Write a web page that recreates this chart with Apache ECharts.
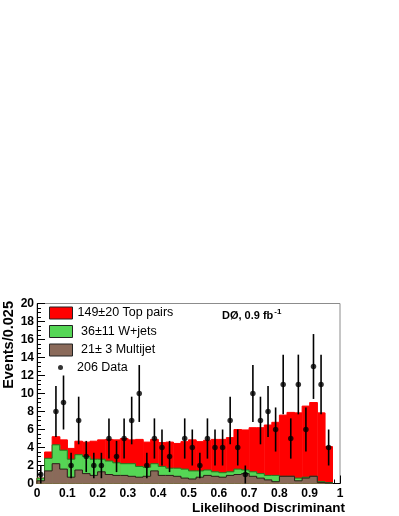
<!DOCTYPE html>
<html>
<head>
<meta charset="utf-8">
<script src="https://cdn.jsdelivr.net/npm/echarts@6/dist/echarts.min.js"></script>
<style>
html, body { margin: 0; padding: 0; background: #fff; }
#main { width: 399px; height: 516px; }
</style>
</head>
<body>
<div id="main"></div>
<script>
// bins of 0.025 on the likelihood discriminant, 0 .. 0.975
var binWidth = 0.025;
var multijet = [0.3, 1.4, 2.2, 1.6, 0.7, 1.5, 1.1, 0.9, 1.3, 1.0,
                0.9, 0.9, 0.8, 0.7, 0.8, 1.4, 0.9, 0.9, 0.8, 0.6,
                0.5, 0.7, 0.9, 0.8, 0.7, 0.9, 1.0, 1.1, 0.8, 0.6,
                0.4, 0.2, 0.8, 0.8, 0.3, 0.6, 0.8, 0.1, 0.05];
var wjets    = [0.3, 1.4, 2.1, 2.1, 2.0, 1.7, 1.9, 1.8, 1.4, 1.5,
                1.4, 1.3, 1.4, 1.2, 1.0, 0.8, 1.0, 0.8, 0.9, 1.0,
                0.9, 0.7, 0.6, 0.5, 0.5, 0.4, 0.6, 0.4, 0.5, 0.5,
                0.5, 0.7, 0.0, 0.0, 0.3, 0.1, 0.0, 0.1, 0.05];
var topPairs = [0.0, 0.7, 0.9, 1.15, 1.2, 1.5, 1.6, 2.0, 2.15, 2.4,
                2.55, 2.8, 2.65, 3.0, 2.8, 2.7, 2.65, 2.9, 2.75, 3.05,
                3.45, 3.25, 3.3, 3.6, 3.7, 3.8, 4.4, 4.45, 4.9, 5.1,
                5.6, 5.9, 6.8, 7.1, 7.25, 7.9, 8.2, 7.65, 4.0];
// observed events per bin (empty bins are not drawn)
var dataCounts = [1, 0, 8, 9, 2, 7, 3, 2, 2, 5,
                  3, 5, 7, 10, 2, 5, 4, 3, 0, 5,
                  4, 2, 5, 4, 4, 7, 4, 1, 10, 7,
                  8, 6, 11, 5, 11, 6, 13, 11, 4];
var xTicks = [0, 0.1, 0.2, 0.3, 0.4, 0.5, 0.6, 0.7, 0.8, 0.9, 1];
var legendNames = ['149\u00b120 Top pairs', ' 36\u00b111 W+jets', ' 21\u00b1 3 Multijet', '206 Data'];

var font = 'Liberation Sans, Arial, Helvetica, sans-serif';

// cumulative tops of the stack
var lvlMulti = multijet.slice();
var lvlW = multijet.map(function (v, i) { return v + wjets[i]; });
var lvlTop = lvlW.map(function (v, i) { return v + topPairs[i]; });

function histSeries(name, tops, fill, line, z) {
  return {
    type: 'custom',
    name: name,
    z: z,
    itemStyle: { color: fill },
    data: tops.map(function (v, i) {
      return [i * binWidth, (i + 1) * binWidth, v, i > 0 ? tops[i - 1] : 0, i === tops.length - 1 ? 1 : 0];
    }),
    encode: { x: [0, 1], y: 2 },
    renderItem: function (params, api) {
      var a = api.coord([api.value(0), api.value(2)]);
      var b = api.coord([api.value(1), 0]);
      var prev = api.coord([api.value(0), api.value(3)]);
      var kids = [{
        type: 'rect',
        shape: { x: a[0], y: a[1], width: b[0] - a[0] + 0.5, height: b[1] - a[1] },
        style: { fill: fill }
      }, {
        type: 'polyline',
        shape: { points: [[a[0], prev[1]], [a[0], a[1]], [b[0], a[1]]] },
        style: { stroke: line, lineWidth: 1, fill: null }
      }];
      if (api.value(4)) {
        kids.push({
          type: 'line',
          shape: { x1: b[0], y1: a[1], x2: b[0], y2: b[1] },
          style: { stroke: line, lineWidth: 1 }
        });
      }
      return { type: 'group', children: kids };
    }
  };
}

var points = [];
dataCounts.forEach(function (n, i) {
  if (n > 0) points.push([(i + 0.5) * binWidth, n, Math.sqrt(n)]);
});

var chart = echarts.init(document.getElementById('main'));
var option = {
  animation: false,
  backgroundColor: '#fff',
  grid: { left: 37, top: 303.5, width: 303, height: 180, show: true, borderColor: '#8c8c8c', borderWidth: 1 },
  xAxis: {
    type: 'value', min: 0, max: 1, interval: 0.1,
    axisLine: { lineStyle: { color: '#000', width: 1 } },
    axisTick: { inside: true, length: 8, lineStyle: { color: '#000' } },
    minorTick: { show: true, splitNumber: 5, length: 4, lineStyle: { color: '#000' } },
    splitLine: { show: false },
    axisLabel: {
      color: '#000', fontFamily: font, fontWeight: 'bold', fontSize: 12, margin: 4,
      formatter: function (v) { return xTicks.indexOf(v) >= 0 ? String(v) : ''; }
    }
  },
  yAxis: {
    type: 'value', min: 0, max: 20, interval: 2,
    axisLine: { lineStyle: { color: '#000', width: 1 } },
    axisTick: { inside: true, length: 8, lineStyle: { color: '#000' } },
    minorTick: { show: true, splitNumber: 4, length: 4, lineStyle: { color: '#000' } },
    splitLine: { show: false },
    axisLabel: { color: '#000', fontFamily: font, fontWeight: 'bold', fontSize: 12, margin: 3 }
  },
  legend: [{
    orient: 'vertical', left: 49, top: 306.5, padding: 0,
    itemWidth: 23, itemHeight: 12, itemGap: 5.5,
    textStyle: { fontFamily: font, fontSize: 12.5, color: '#000', lineHeight: 12 },
    data: [
      { name: legendNames[0], icon: 'rect', itemStyle: { color: '#ff0000', borderColor: '#222', borderWidth: 1 } },
      { name: legendNames[1], icon: 'rect', itemStyle: { color: '#55d655', borderColor: '#222', borderWidth: 1 } },
      { name: legendNames[2], icon: 'rect', itemStyle: { color: '#8a6a5a', borderColor: '#222', borderWidth: 1 } }
    ]
  }, {
    orient: 'vertical', left: 53, top: 356,
    itemWidth: 23, itemHeight: 5,
    textStyle: { fontFamily: font, fontSize: 12.5, color: '#000' },
    data: [{ name: legendNames[3], icon: 'circle' }]
  }],
  graphic: [{
    type: 'text', x: 9, y: 301, rotation: Math.PI / 2,
    style: { text: 'Events/0.025', font: 'bold 14.5px ' + font, fill: '#000', align: 'right', verticalAlign: 'middle' }
  }, {
    type: 'text', x: 345, y: 508,
    style: { text: 'Likelihood Discriminant', font: 'bold 13.5px ' + font, fill: '#000', align: 'right', verticalAlign: 'middle' }
  }, {
    type: 'text', x: 222, y: 316,
    style: {
      text: '{a|D\u00d8, 0.9 fb}{b|-1}',
      verticalAlign: 'middle',
      rich: {
        a: { font: 'bold 11px ' + font, fill: '#000' },
        b: { font: 'bold 8px ' + font, fill: '#000', verticalAlign: 'bottom', padding: [0, 0, 8, 1] }
      }
    }
  }],
  series: [
    histSeries(legendNames[0], lvlTop, '#ff0000', '#ff0000', 2),
    histSeries(legendNames[1], lvlW, '#55d655', '#1f7a1f', 3),
    histSeries(legendNames[2], lvlMulti, '#8a6a5a', '#2a1e18', 4),
    {
      type: 'custom', name: 'errors', z: 5,
      data: points,
      renderItem: function (params, api) {
        var lo = api.coord([api.value(0), api.value(1) - api.value(2)]);
        var hi = api.coord([api.value(0), api.value(1) + api.value(2)]);
        return { type: 'line', shape: { x1: lo[0], y1: lo[1], x2: hi[0], y2: hi[1] }, style: { stroke: '#000', lineWidth: 1.6 } };
      }
    },
    {
      type: 'scatter', name: legendNames[3], z: 6,
      symbol: 'circle', symbolSize: 5.5,
      itemStyle: { color: '#000' },
      data: points.map(function (p) { return [p[0], p[1]]; })
    }
  ]
};
chart.setOption(option);
</script>
</body>
</html>
